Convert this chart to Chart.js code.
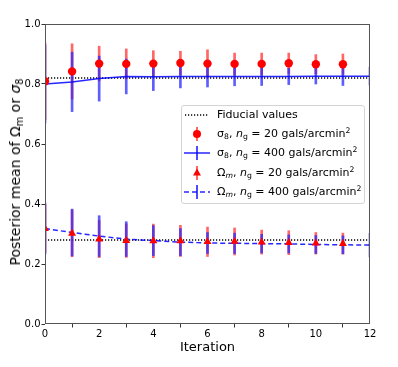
<!DOCTYPE html>
<html>
<head>
<meta charset="utf-8">
<script src="https://cdn.jsdelivr.net/npm/chart.js@4.4.1/dist/chart.umd.min.js"></script>
<style>
  body { margin: 0; background: #fff; }
  #wrap { position: relative; width: 398px; height: 367px; font-family: "DejaVu Sans", sans-serif; color: #000; }
  canvas { position: absolute; left: 0; top: 0; }
  .ytitle { position: absolute; left: 15px; top: 172px; transform: translate(-50%, -50%) rotate(-90deg); white-space: nowrap; font-size: 14px; line-height: 16px; }
  .legend { position: absolute; left: 181px; top: 105px; width: 182px; height: 97px; border: 1px solid #d4d4d4; border-radius: 3px; background: rgba(255,255,255,0.85); font-size: 11px; }
  .row { position: absolute; left: 0; height: 16px; line-height: 16px; white-space: nowrap; }
  .row svg { position: absolute; left: 1px; top: 0; }
  .row span.t { position: absolute; left: 35px; top: 0; }
  sub, sup { font-size: 0.7em; line-height: 0; position: relative; vertical-align: baseline; }
  sub { top: 0.3em; }
  sup { top: -0.55em; }
</style>
</head>
<body>
<div id="wrap">
  <canvas id="c" width="398" height="367"></canvas>
  <div class="ytitle">Posterior mean of Ω<sub>m</sub> or <i>σ</i><sub>8</sub></div>
  <div class="legend">
    <div class="row" style="top:1px">
      <svg width="27" height="16"><line x1="2" y1="8" x2="26" y2="8" stroke="#000" stroke-width="1.3" stroke-dasharray="1.2,1.8"/></svg>
      <span class="t">Fiducial values</span>
    </div>
    <div class="row" style="top:20px">
      <svg width="27" height="16"><line x1="14" y1="1" x2="14" y2="15" stroke="rgba(255,0,0,0.6)" stroke-width="2"/><circle cx="14" cy="8" r="4" fill="#ff0000"/></svg>
      <span class="t">σ<sub>8</sub>, <i>n</i><sub>g</sub> = 20 gals/arcmin<sup>2</sup></span>
    </div>
    <div class="row" style="top:39px">
      <svg width="27" height="16"><line x1="14" y1="1" x2="14" y2="15" stroke="rgba(0,0,255,0.7)" stroke-width="2"/><line x1="1" y1="8" x2="27" y2="8" stroke="rgba(0,0,255,0.85)" stroke-width="1.5"/></svg>
      <span class="t">σ<sub>8</sub>, <i>n</i><sub>g</sub> = 400 gals/arcmin<sup>2</sup></span>
    </div>
    <div class="row" style="top:59px">
      <svg width="27" height="16"><line x1="14" y1="1" x2="14" y2="15" stroke="rgba(255,0,0,0.6)" stroke-width="2"/><polygon points="14,3.5 18,10.5 10,10.5" fill="#ff0000"/></svg>
      <span class="t">Ω<sub><i>m</i></sub>, <i>n</i><sub>g</sub> = 20 gals/arcmin<sup>2</sup></span>
    </div>
    <div class="row" style="top:78px">
      <svg width="27" height="16"><line x1="14" y1="1" x2="14" y2="15" stroke="rgba(0,0,255,0.7)" stroke-width="2"/><line x1="1" y1="8" x2="27" y2="8" stroke="rgba(0,0,255,0.85)" stroke-width="1.5" stroke-dasharray="5,3"/></svg>
      <span class="t">Ω<sub><i>m</i></sub>, <i>n</i><sub>g</sub> = 400 gals/arcmin<sup>2</sup></span>
    </div>
  </div>
</div>
<script>
// ---- data ----
const iterations20  = [0, 1, 2, 3, 4, 5, 6, 7, 8, 9, 10, 11];
const iterations400 = [0, 1, 2, 3, 4, 5, 6, 7, 8, 9, 10, 11, 12];

const sigma8_ng20      = [0.809, 0.842, 0.868, 0.867, 0.868, 0.870, 0.868, 0.867, 0.867, 0.869, 0.866, 0.866];
const sigma8_ng20_err  = [0.128, 0.092, 0.058, 0.050, 0.043, 0.039, 0.046, 0.036, 0.036, 0.034, 0.032, 0.034];
const sigma8_ng400     = [0.800, 0.807, 0.818, 0.825, 0.824, 0.825, 0.825, 0.825, 0.825, 0.825, 0.826, 0.826, 0.826];
const sigma8_ng400_err = [0.130, 0.099, 0.075, 0.058, 0.046, 0.038, 0.035, 0.031, 0.030, 0.027, 0.026, 0.031, 0.030];

const omega_ng20      = [0.318, 0.302, 0.283, 0.278, 0.277, 0.277, 0.274, 0.275, 0.273, 0.271, 0.269, 0.268];
const omega_ng20_err  = [0.080, 0.078, 0.062, 0.056, 0.056, 0.052, 0.049, 0.045, 0.040, 0.040, 0.036, 0.035];
const omega_ng400     = [0.318, 0.305, 0.293, 0.283, 0.278, 0.273, 0.270, 0.269, 0.268, 0.267, 0.265, 0.264, 0.263];
const omega_ng400_err = [0.085, 0.078, 0.068, 0.058, 0.050, 0.045, 0.035, 0.034, 0.031, 0.030, 0.030, 0.030, 0.039];

const fiducialSigma8 = 0.82;
const fiducialOmega  = 0.28;
const xRange = [0, 12];
const yTicks = [0.0, 0.2, 0.4, 0.6, 0.8, 1.0];
const xTicks = [0, 2, 4, 6, 8, 10, 12];

// ---- helpers ----
const pts = (xs, ys) => xs.map((x, i) => ({ x: x, y: ys[i] }));
const bars = (xs, ys, es) => xs.map((x, i) => ({ x: x, y: [ys[i] - es[i], ys[i] + es[i]] }));

const RED_BAR = 'rgba(255,0,0,0.6)';
const BLUE_BAR = 'rgba(40,40,255,0.75)';
const BLUE_LINE = 'rgba(0,0,255,0.85)';
const FONT = '"DejaVu Sans", sans-serif';

const barDefaults = { type: 'bar', barThickness: 2, borderWidth: 0, grouped: false, clip: 0, borderSkipped: false };

const frame = {
  id: 'frame',
  afterDraw(chart) {
    const a = chart.chartArea, ctx = chart.ctx;
    ctx.save();
    ctx.strokeStyle = '#555';
    ctx.lineWidth = 1;
    ctx.strokeRect(a.left + 0.5, a.top + 0.5, a.right - a.left - 1, a.bottom - a.top - 1);
    ctx.restore();
  }
};

new Chart(document.getElementById('c'), {
  type: 'line',
  data: {
    datasets: [
      { type: 'line', label: 'Fiducial σ8', data: pts(xRange, [fiducialSigma8, fiducialSigma8]),
        borderColor: '#000', borderWidth: 1.3, borderDash: [1.2, 1.8], pointRadius: 0, order: 8, clip: 0 },
      { type: 'line', label: 'Fiducial Ωm', data: pts(xRange, [fiducialOmega, fiducialOmega]),
        borderColor: '#000', borderWidth: 1.3, borderDash: [1.2, 1.8], pointRadius: 0, order: 8, clip: 0 },

      Object.assign({ label: 'σ8 ng20 err', data: bars(iterations20, sigma8_ng20, sigma8_ng20_err), backgroundColor: RED_BAR, order: 7 }, barDefaults),
      Object.assign({ label: 'Ωm ng20 err', data: bars(iterations20, omega_ng20, omega_ng20_err), backgroundColor: RED_BAR, order: 7 }, barDefaults),
      Object.assign({ label: 'σ8 ng400 err', data: bars(iterations400, sigma8_ng400, sigma8_ng400_err), backgroundColor: BLUE_BAR, order: 6 }, barDefaults),
      Object.assign({ label: 'Ωm ng400 err', data: bars(iterations400, omega_ng400, omega_ng400_err), backgroundColor: BLUE_BAR, order: 6 }, barDefaults),

      { type: 'line', label: 'σ8 ng400', data: pts(iterations400, sigma8_ng400),
        borderColor: BLUE_LINE, borderWidth: 1.5, pointRadius: 0, tension: 0, order: 4, clip: 0 },
      { type: 'line', label: 'Ωm ng400', data: pts(iterations400, omega_ng400),
        borderColor: BLUE_LINE, borderWidth: 1.5, borderDash: [5, 3], pointRadius: 0, tension: 0, order: 4, clip: 0 },

      { type: 'line', label: 'σ8 ng20', data: pts(iterations20, sigma8_ng20), showLine: false,
        pointStyle: 'circle', pointRadius: 4.2, pointBackgroundColor: '#ff0000', pointBorderWidth: 0, order: 1, clip: 0 },
      { type: 'line', label: 'Ωm ng20', data: pts(iterations20, omega_ng20), showLine: false,
        pointStyle: 'triangle', pointRadius: 4.6, pointBackgroundColor: '#ff0000', pointBorderWidth: 0, order: 1, clip: 0 }
    ]
  },
  options: {
    responsive: false,
    animation: false,
    devicePixelRatio: 1,
    layout: { padding: { top: 24, right: 28, left: 0, bottom: 0 } },
    plugins: { legend: { display: false }, tooltip: { enabled: false } },
    scales: {
      x: {
        type: 'linear', min: xRange[0], max: xRange[1], offset: false,
        afterBuildTicks: s => { s.ticks = xTicks.map(v => ({ value: v })); },
        afterFit: s => { s.height = 43; },
        grid: { drawOnChartArea: false, tickLength: 3.5, tickColor: '#333', tickWidth: 1 },
        border: { display: false },
        ticks: { color: '#000', font: { family: FONT, size: 10 }, padding: 1, maxRotation: 0, autoSkip: false,
                 callback: v => String(v) },
        title: { display: true, text: 'Iteration', color: '#000', font: { family: FONT, size: 13 }, padding: { top: 0, bottom: 12 } }
      },
      y: {
        type: 'linear', min: 0, max: 1,
        afterBuildTicks: s => { s.ticks = yTicks.map(v => ({ value: v })); },
        afterFit: s => { s.width = 45; },
        grid: { drawOnChartArea: false, tickLength: 3.5, tickColor: '#333', tickWidth: 1 },
        border: { display: false },
        ticks: { color: '#000', font: { family: FONT, size: 10 }, padding: 1, autoSkip: false,
                 callback: v => Number(v).toFixed(1) }
      }
    }
  },
  plugins: [frame]
});
</script>
</body>
</html>
